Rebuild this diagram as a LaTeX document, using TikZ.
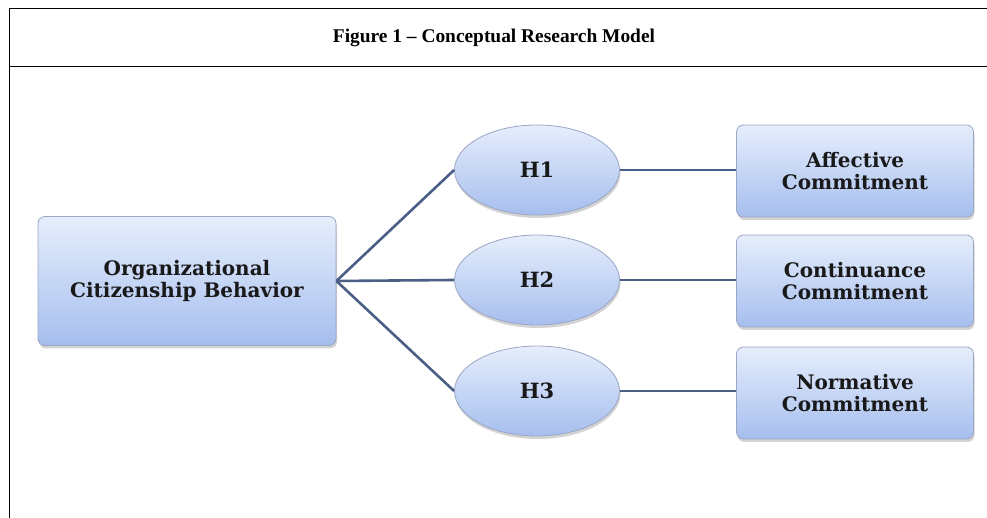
\documentclass[tikz,border=0pt]{standalone}
\usepackage{fontspec}
\setmainfont{Liberation Serif}
\newfontfamily\boxfont{DejaVu Serif}
\usetikzlibrary{positioning, shapes.geometric, shadows}

\definecolor{boxtop}{HTML}{E6EEFC}
\definecolor{boxbottom}{HTML}{A6BEEE}
\definecolor{boxline}{HTML}{9AA6C4}
\definecolor{linkblue}{HTML}{4B5F86}

\tikzset{
  concept/.style={draw=boxline, line width=0.8pt, rounded corners=7pt,
    top color=boxtop, bottom color=boxbottom, align=center,
    font=\boxfont\bfseries\fontsize{20}{22}\selectfont, text=black!90,
    drop shadow={shadow xshift=1pt, shadow yshift=-3pt, opacity=0.35, fill=gray}},
  hypo/.style={ellipse, draw=boxline, line width=0.8pt,
    top color=boxtop, bottom color=boxbottom, minimum width=165pt, minimum height=90pt,
    font=\boxfont\bfseries\fontsize{21}{24}\selectfont, text=black!90,
    drop shadow={shadow xshift=1pt, shadow yshift=-3pt, opacity=0.35, fill=gray}},
  link/.style={draw=linkblue, line width=2.6pt}
}

\begin{document}
\begin{tikzpicture}[x=1pt, y=1pt]
    \useasboundingbox (0,0) rectangle (987,518);
    % frame of the figure table
    \draw[line width=1pt] (9,0) -- (9,509) -- (987,509);
    \draw[line width=1pt] (9,451) -- (987,451);
    \node[font=\bfseries\fontsize{19.4}{22}\selectfont] (title) at (494,480) {Figure 1 -- Conceptual Research Model};

    \node[concept, minimum width=298pt, minimum height=129pt] (ocb) at (187,237) {Organizational\\Citizenship Behavior};

    \node[hypo] (h1) at (537,348) {H1};
    \node[hypo] (h2) at (537,238) {H2};
    \node[hypo] (h3) at (537,127) {H3};

    \node[concept, minimum width=237pt, minimum height=92pt] (ac) at (855,347) {Affective\\Commitment};
    \node[concept, minimum width=237pt, minimum height=92pt] (cc) at (855,237) {Continuance\\Commitment};
    \node[concept, minimum width=237pt, minimum height=92pt] (nc) at (855,125) {Normative\\Commitment};

    \path[link]
        (ocb.east) edge (h1.west)
                   edge (h2.west)
                   edge (h3.west)
        (h1.east) edge (ac.west |- h1.east)
        (h2.east) edge (cc.west |- h2.east)
        (h3.east) edge (nc.west |- h3.east);
\end{tikzpicture}
\end{document}
